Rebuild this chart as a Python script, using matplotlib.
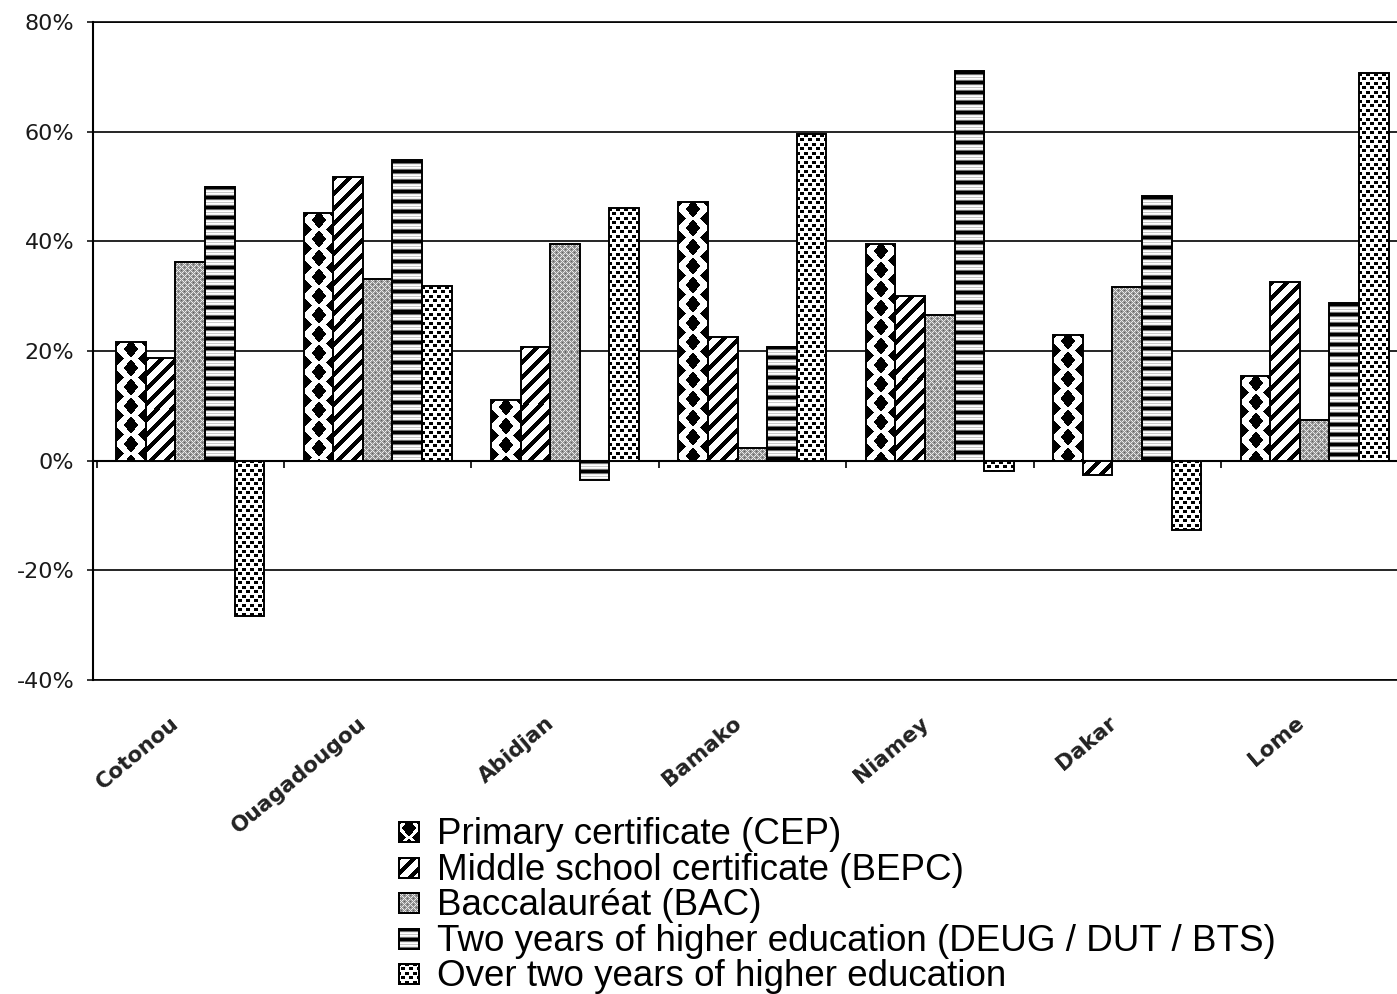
import numpy as np
import matplotlib
matplotlib.use("Agg")
import matplotlib.pyplot as plt
from matplotlib.transforms import ScaledTranslation

# ---- data (percent change by city and diploma level) ----
cities = ["Cotonou", "Ouagadougou", "Abidjan", "Bamako", "Niamey", "Dakar", "Lome"]
series_names = [
    "Primary certificate (CEP)",
    "Middle school certificate (BEPC)",
    "Baccalauréat (BAC)",
    "Two years of higher education (DEUG / DUT / BTS)",
    "Over two years of higher education",
]
cep = [21.7, 45.2, 11.1, 47.2, 39.5, 23.0, 15.5]
bepc = [18.8, 51.7, 20.8, 22.6, 30.0, -2.7, 32.6]
bac = [36.3, 33.2, 39.6, 2.3, 26.5, 31.7, 7.5]
deug = [50.0, 54.8, -3.6, 20.8, 71.1, 48.2, 28.8]
over_two = [-28.4, 31.8, 46.0, 59.6, -1.8, -12.6, 70.7]
y_ticks = [-40, -20, 0, 20, 40, 60, 80]


# ---- pixel fill patterns (grey levels 0..255) ----
def _grid(h, w):
    r = np.arange(h)[:, None] + 0.5
    c = np.arange(w)[None, :] + 0.5
    return r, c


def tex_diamonds(h, w):
    r, c = _grid(h, w)
    P, a, b, r0 = 19.0, 7.5, 8.5, 7.0
    dy1 = np.mod(r - r0 + P / 2, P) - P / 2
    dx1 = c - w / 2.0
    dy2 = np.mod(r - r0, P) - P / 2
    dx2 = np.minimum(c, w - c)
    on = (np.abs(dx1) / a + np.abs(dy1) / b <= 1) | (dx2 / a + np.abs(dy2) / b <= 1)
    img = np.full((h, w), 255.0)
    img[np.broadcast_to(on, (h, w))] = 0
    return img


def tex_diagonal(h, w):
    r, c = _grid(h, w)
    on = np.mod(c + r, 15.0) < 5.5
    return np.where(on, 0.0, 255.0)


def tex_crosshatch(h, w):
    r, c = _grid(h, w)
    ri, ci = np.floor(r).astype(int), np.floor(c).astype(int)
    img = np.full((h, w), 150.0)
    light = (np.mod(ci + ri, 6) == 0) | (np.mod(ci - ri, 6) == 0)
    dark = (np.mod(ci + ri, 6) == 3) & (np.mod(ci - ri, 6) == 3)
    img[np.broadcast_to(light, (h, w))] = 235
    img[np.broadcast_to(dark, (h, w))] = 95
    return img


def tex_hstripes(h, w):
    profile = np.array([0, 0, 0, 110, 235, 255, 200, 255, 235, 110], dtype=float)
    rows = profile[np.arange(h) % len(profile)]
    return np.repeat(rows[:, None], w, axis=1)


def tex_dots(h, w):
    ri = np.arange(h)[:, None]
    ci = np.arange(w)[None, :]
    a = (np.mod(ri, 9) < 3) & (np.mod(ci + 1, 8) < 4)
    b = (np.mod(ri - 4, 9) < 3) & (np.mod(ci - 3, 8) < 4)
    return np.where(a | b, 0.0, 255.0)


textures = [tex_diamonds, tex_diagonal, tex_crosshatch, tex_hstripes, tex_dots]
series = [cep, bepc, bac, deug, over_two]

# ---- figure / axes geometry ----
W, H = 1397, 994
fig = plt.figure(figsize=(W / 100, H / 100), dpi=100)
ax_left, ax_right, ax_top, ax_bottom = 93, 1410, 22, 680
ax = fig.add_axes([ax_left / W, (H - ax_bottom) / H,
                   (ax_right - ax_left) / W, (ax_bottom - ax_top) / H])
group_px = 187.4
x_lo = -0.519
xlim = (x_lo, x_lo + (ax_right - ax_left) / group_px)
ylim = (y_ticks[0], y_ticks[-1])
ax.set_xlim(xlim)
ax.set_ylim(ylim)

x = np.arange(len(cities))
bar_w = 0.158

for k, (vals, tex) in enumerate(zip(series, textures)):
    bars = ax.bar(x + (k - 2) * bar_w, vals, bar_w, fill=False,
                  edgecolor="black", linewidth=1.4, zorder=3)
    for b in bars:
        x0 = b.get_x()
        x1 = x0 + b.get_width()
        y0 = min(b.get_y(), b.get_y() + b.get_height())
        y1 = max(b.get_y(), b.get_y() + b.get_height())
        (px0, py0), (px1, py1) = ax.transData.transform([(x0, y0), (x1, y1)])
        pw = max(1, int(round(px1 - px0)))
        ph = max(1, int(round(py1 - py0)))
        ax.imshow(tex(ph, pw), cmap="gray", vmin=0, vmax=255,
                  extent=(x0, x1, y0, y1), origin="upper", aspect="auto",
                  interpolation="nearest", zorder=2)

ax.set_xlim(xlim)
ax.set_ylim(ylim)

# ---- y axis: percent gridlines ----
ax.set_yticks(y_ticks)
ax.set_yticklabels([f"{v}%" for v in y_ticks], fontsize=16,
                   family="DejaVu Sans", color="#1a1a1a")
ax.yaxis.grid(True, color="black", linewidth=1.2)
ax.set_axisbelow(True)
ax.tick_params(axis="y", direction="out", length=4.5, width=1.1, pad=9)
ax.set_xticks([])
for side in ("top", "bottom"):
    ax.spines[side].set_linewidth(1.2)
ax.spines["right"].set_visible(False)
ax.spines["left"].set_linewidth(1.5)

# ---- category axis crossing at zero, ticks between groups ----
zero_frac = (0 - ylim[0]) / (ylim[1] - ylim[0])
sec = ax.secondary_xaxis(zero_frac)
sec.set_xticks(np.arange(len(cities) + 1) - 0.5)
sec.tick_params(axis="x", direction="out", length=5, width=1.2,
                bottom=True, top=False, labelbottom=False, labeltop=False)
for sp in sec.spines.values():
    sp.set_linewidth(1.5)

# ---- rotated city labels under the plot ----
label_shift = ScaledTranslation(-0.20, -0.33, fig.dpi_scale_trans)
for i, city in enumerate(cities):
    ax.text(i, 0, city, transform=ax.get_xaxis_transform() + label_shift,
            rotation=40, rotation_mode="anchor", ha="right", va="top",
            fontsize=15.5, fontweight="bold", family="DejaVu Sans",
            color="#222222")

# ---- legend: pattern swatches with labels ----
sw = 22
base_y = 844
step = 35.6
for k, (name, tex) in enumerate(zip(series_names, textures)):
    patch = tex(sw, sw).copy()
    patch[:2, :] = 0
    patch[-2:, :] = 0
    patch[:, :2] = 0
    patch[:, -2:] = 0
    rgb = np.repeat(patch[:, :, None], 3, axis=2).astype(np.uint8)
    yb = base_y + k * step
    fig.figimage(rgb, xo=398, yo=int(round(H - (yb - 1))), origin="upper", zorder=5)
    fig.text(437 / W, (H - yb) / H, name, fontsize=26.5,
             family="Liberation Sans", va="baseline", ha="left", color="black")

fig.savefig("out.png", dpi=100)
